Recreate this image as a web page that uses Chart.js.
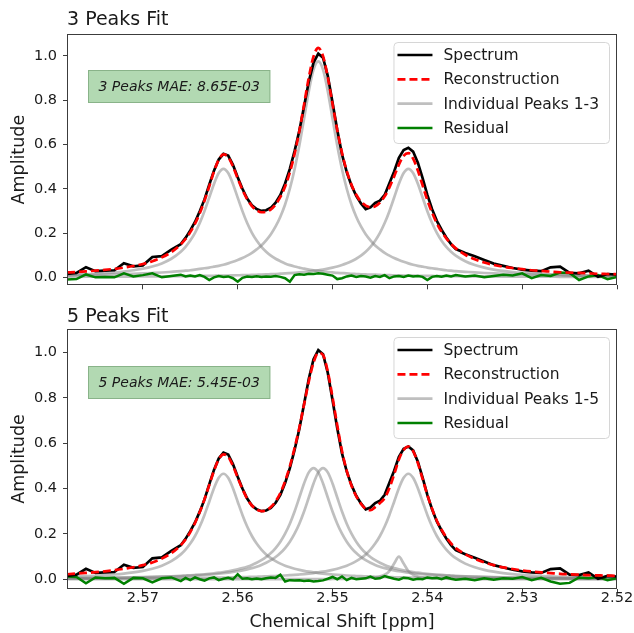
<!DOCTYPE html>
<html>
<head>
<meta charset="utf-8">
<script src="https://cdn.jsdelivr.net/npm/chart.js@4.4.1/dist/chart.umd.min.js"></script>
<style>
  html, body { margin: 0; padding: 0; background: #fff; }
  #wrap { position: relative; width: 634px; height: 633px; }
  .panel { position: absolute; left: 0; width: 634px; }
  #top { top: 0; height: 300px; }
  #bottom { top: 300px; height: 333px; }
</style>
</head>
<body>
<div id="wrap">
  <div class="panel" id="top"><canvas id="fit3" width="634" height="300"></canvas></div>
  <div class="panel" id="bottom"><canvas id="fit5" width="634" height="333"></canvas></div>
</div>
<script>
// chemical shift grid (ppm) - coarse in the tails, fine around the peaks
const shifts = [
  2.578, 2.577, 2.576, 2.575, 2.574, 2.573, 2.572, 2.571, 2.570, 2.569, 2.568, 2.567,
  2.566, 2.5655, 2.565, 2.5645, 2.564, 2.5635, 2.563, 2.5625, 2.562, 2.5615,
  2.561, 2.5605, 2.560, 2.5595, 2.559, 2.5585, 2.558, 2.5575, 2.557, 2.5565,
  2.556, 2.5555, 2.555, 2.5545, 2.554, 2.5535, 2.553, 2.5525, 2.552, 2.5515,
  2.551, 2.5505, 2.550, 2.5495, 2.549, 2.5485, 2.548, 2.5475, 2.547, 2.5465,
  2.546, 2.5455, 2.545, 2.5445, 2.544, 2.5435, 2.543, 2.5425, 2.542, 2.5415,
  2.541, 2.5405, 2.540, 2.5395, 2.539, 2.5385, 2.538, 2.5375, 2.537,
  2.536, 2.535, 2.534, 2.533, 2.532, 2.531, 2.530, 2.529, 2.528, 2.527, 2.526,
  2.525, 2.524, 2.523, 2.522, 2.521, 2.520
];

// measured spectrum (same in both panels)
const spectrum = [
  0.015, 0.020, 0.046, 0.028, 0.030, 0.032, 0.064, 0.050, 0.054, 0.092, 0.096, 0.125,
  0.150, 0.178, 0.212, 0.250, 0.298, 0.352, 0.418, 0.482, 0.532, 0.558,
  0.550, 0.508, 0.452, 0.400, 0.356, 0.325, 0.308, 0.300, 0.303, 0.314,
  0.337, 0.372, 0.424, 0.490, 0.570, 0.662, 0.772, 0.884, 0.970, 1.010,
  0.992, 0.910, 0.790, 0.665, 0.555, 0.475, 0.415, 0.368, 0.334, 0.308,
  0.316, 0.336, 0.346, 0.372, 0.425, 0.478, 0.540, 0.575, 0.585, 0.568,
  0.518, 0.448, 0.372, 0.308, 0.255, 0.215, 0.180, 0.150, 0.128,
  0.110, 0.095, 0.078, 0.062, 0.052, 0.042, 0.035, 0.030, 0.028, 0.045, 0.048,
  0.020, 0.018, 0.030, 0.002, 0.015, 0.012
];

// 3 peaks fit
const recon3 = [
  0.022, 0.024, 0.027, 0.030, 0.034, 0.038, 0.044, 0.051, 0.060, 0.073, 0.090, 0.114,
  0.149, 0.173, 0.204, 0.242, 0.289, 0.346, 0.411, 0.478, 0.531, 0.555,
  0.543, 0.501, 0.447, 0.395, 0.353, 0.322, 0.303, 0.294, 0.296, 0.307,
  0.329, 0.363, 0.410, 0.474, 0.557, 0.660, 0.780, 0.902, 0.998, 1.036,
  0.999, 0.904, 0.783, 0.664, 0.562, 0.480, 0.418, 0.373, 0.342, 0.324,
  0.317, 0.321, 0.338, 0.366, 0.406, 0.456, 0.509, 0.549, 0.561, 0.536,
  0.482, 0.415, 0.349, 0.292, 0.244, 0.206, 0.176, 0.151, 0.131,
  0.102, 0.082, 0.067, 0.056, 0.048, 0.042, 0.037, 0.032, 0.029, 0.026, 0.023,
  0.021, 0.020, 0.018, 0.016, 0.015, 0.014
];
const peak3a = [
  0.011, 0.012, 0.014, 0.016, 0.019, 0.022, 0.026, 0.032, 0.039, 0.049, 0.063, 0.084,
  0.116, 0.138, 0.166, 0.201, 0.245, 0.299, 0.360, 0.422, 0.471, 0.490,
  0.471, 0.422, 0.360, 0.299, 0.245, 0.201, 0.166, 0.138, 0.116, 0.098,
  0.084, 0.073, 0.063, 0.055, 0.049, 0.044, 0.039, 0.035, 0.032, 0.029,
  0.026, 0.024, 0.022, 0.020, 0.019, 0.018, 0.016, 0.015, 0.014, 0.013,
  0.012, 0.012, 0.011, 0.010, 0.0098, 0.0093, 0.0088, 0.0083, 0.0079, 0.0075,
  0.0072, 0.0069, 0.0065, 0.0062, 0.0060, 0.0057, 0.0055, 0.0053, 0.0051,
  0.0047, 0.0043, 0.0040, 0.0037, 0.0035, 0.0033, 0.0031, 0.0029, 0.0027, 0.0026, 0.0024,
  0.0023, 0.0022, 0.0021, 0.0020, 0.0019, 0.0018
];
const peak3b = [
  0.0086, 0.0093, 0.0100, 0.0109, 0.0119, 0.0130, 0.0143, 0.0158, 0.0175, 0.0195, 0.0218, 0.0248,
  0.028, 0.030, 0.032, 0.035, 0.038, 0.041, 0.044, 0.048, 0.052, 0.057,
  0.063, 0.070, 0.078, 0.087, 0.098, 0.110, 0.126, 0.144, 0.167, 0.195,
  0.230, 0.274, 0.329, 0.400, 0.488, 0.595, 0.717, 0.841, 0.938, 0.975,
  0.938, 0.841, 0.717, 0.595, 0.488, 0.400, 0.329, 0.274, 0.230, 0.195,
  0.167, 0.144, 0.126, 0.110, 0.098, 0.087, 0.078, 0.070, 0.063, 0.057,
  0.052, 0.048, 0.044, 0.041, 0.038, 0.035, 0.032, 0.030, 0.028,
  0.025, 0.022, 0.0195, 0.0175, 0.0158, 0.0143, 0.0130, 0.0119, 0.0109, 0.0100, 0.0093,
  0.0086, 0.0080, 0.0074, 0.0069, 0.0065, 0.0061
];
const peak3c = [
  0.0024, 0.0025, 0.0026, 0.0028, 0.0030, 0.0032, 0.0034, 0.0036, 0.0039, 0.0042, 0.0045, 0.0049,
  0.0052, 0.0055, 0.0057, 0.0060, 0.0062, 0.0065, 0.0069, 0.0072, 0.0075, 0.0079,
  0.0083, 0.0088, 0.0093, 0.0098, 0.0104, 0.0110, 0.0117, 0.0124, 0.0132, 0.0142,
  0.0151, 0.0163, 0.0175, 0.0189, 0.0204, 0.0221, 0.0241, 0.0263, 0.0288, 0.0318,
  0.0351, 0.0390, 0.0436, 0.0490, 0.0554, 0.0632, 0.0725, 0.0839, 0.098, 0.1155,
  0.1376, 0.1655, 0.2008, 0.245, 0.2988, 0.3603, 0.4224, 0.4711, 0.490, 0.4711,
  0.4224, 0.3603, 0.2988, 0.245, 0.2008, 0.1655, 0.1376, 0.1155, 0.098,
  0.0725, 0.0554, 0.0436, 0.0351, 0.0288, 0.0241, 0.0204, 0.0175, 0.0151, 0.0132, 0.0117,
  0.0104, 0.0093, 0.0083, 0.0075, 0.0069, 0.0062
];
const resid3 = [
  -0.010, -0.008, 0.013, 0.000, 0.002, 0.000, 0.018, 0.004, 0.010, 0.018, 0.000, 0.006,
  0.012, 0.004, 0.008, 0.004, 0.010, 0.002, -0.012, 0.000, 0.006, 0.002,
  0.004, -0.004, -0.020, -0.002, 0.004, 0.002, 0.005, 0.002, 0.004, 0.003,
  0.006, 0.002, -0.004, -0.020, 0.010, 0.014, 0.012, 0.016, 0.015, 0.018,
  0.016, 0.012, 0.008, -0.008, -0.004, 0.004, 0.008, 0.002, 0.006, 0.004,
  -0.002, 0.006, 0.002, 0.010, -0.004, 0.004, 0.006, 0.002, 0.008, 0.004,
  0.006, 0.002, -0.012, 0.002, 0.006, 0.003, 0.008, 0.004, 0.010,
  0.004, 0.008, 0.000, 0.006, 0.012, 0.008, 0.018, -0.004, 0.010, 0.006, 0.022,
  0.020, -0.012, 0.004, 0.010, -0.008, 0.002
];

// 5 peaks fit
const recon5 = [
  0.022, 0.025, 0.028, 0.031, 0.035, 0.040, 0.046, 0.053, 0.062, 0.074, 0.091, 0.115,
  0.150, 0.175, 0.208, 0.248, 0.296, 0.352, 0.415, 0.478, 0.528, 0.550,
  0.540, 0.500, 0.448, 0.398, 0.355, 0.325, 0.307, 0.300, 0.304, 0.318,
  0.343, 0.380, 0.432, 0.498, 0.578, 0.668, 0.770, 0.872, 0.955, 0.998,
  0.988, 0.915, 0.802, 0.678, 0.565, 0.478, 0.413, 0.366, 0.333, 0.310,
  0.304, 0.318, 0.336, 0.358, 0.402, 0.462, 0.528, 0.570, 0.585, 0.565,
  0.512, 0.442, 0.372, 0.310, 0.258, 0.218, 0.185, 0.158, 0.137,
  0.110, 0.090, 0.074, 0.062, 0.052, 0.045, 0.039, 0.034, 0.030, 0.027, 0.024,
  0.022, 0.020, 0.018, 0.017, 0.016, 0.015
];
const peak5a = [
  0.0104, 0.0118, 0.0134, 0.0154, 0.0179, 0.021, 0.0249, 0.0301, 0.037, 0.0465, 0.0599, 0.0796,
  0.1096, 0.1306, 0.1571, 0.1906, 0.2325, 0.2836, 0.3419, 0.4009, 0.4471, 0.465,
  0.4471, 0.4009, 0.3419, 0.2836, 0.2325, 0.1906, 0.1571, 0.1306, 0.1096, 0.093,
  0.0796, 0.0688, 0.0599, 0.0526, 0.0465, 0.0414, 0.037, 0.0333, 0.0301, 0.0273,
  0.0249, 0.0228, 0.021, 0.0193, 0.0179, 0.0166, 0.0154, 0.0144, 0.0134, 0.0126,
  0.0118, 0.0111, 0.0104, 0.0099, 0.0093, 0.0088, 0.0083, 0.0079, 0.0075, 0.0072,
  0.0068, 0.0065, 0.0062, 0.0059, 0.0057, 0.0054, 0.0052, 0.0050, 0.0048,
  0.0044, 0.0041, 0.0038, 0.0035, 0.0033, 0.0031, 0.0029, 0.0027, 0.0026, 0.0024, 0.0023,
  0.0022, 0.0020, 0.0019, 0.0019, 0.0018, 0.0017
];
const peak5b = [
  0.0045, 0.0049, 0.0052, 0.0057, 0.0062, 0.0069, 0.0075, 0.0083, 0.0093, 0.0104, 0.0117, 0.0132,
  0.0151, 0.0163, 0.0175, 0.0189, 0.0204, 0.0221, 0.0241, 0.0263, 0.0288, 0.0318,
  0.0351, 0.039, 0.0436, 0.049, 0.0554, 0.0632, 0.0725, 0.0839, 0.098, 0.1155,
  0.1376, 0.1655, 0.2008, 0.245, 0.2988, 0.3603, 0.4224, 0.4711, 0.490, 0.4711,
  0.4224, 0.3603, 0.2988, 0.245, 0.2008, 0.1655, 0.1376, 0.1155, 0.098, 0.0839,
  0.0725, 0.0632, 0.0554, 0.049, 0.0436, 0.039, 0.0351, 0.0318, 0.0288, 0.0263,
  0.0241, 0.0221, 0.0204, 0.0189, 0.0175, 0.0163, 0.0151, 0.0142, 0.0132,
  0.0117, 0.0104, 0.0093, 0.0083, 0.0075, 0.0069, 0.0062, 0.0057, 0.0052, 0.0049, 0.0045,
  0.0042, 0.0039, 0.0036, 0.0034, 0.0032, 0.0030
];
const peak5c = [
  0.0042, 0.0045, 0.0049, 0.0052, 0.0057, 0.0062, 0.0069, 0.0075, 0.0083, 0.0093, 0.0104, 0.0117,
  0.0132, 0.0142, 0.0151, 0.0163, 0.0175, 0.0189, 0.0204, 0.0221, 0.0241, 0.0263,
  0.0288, 0.0318, 0.0351, 0.039, 0.0436, 0.049, 0.0554, 0.0632, 0.0725, 0.0839,
  0.098, 0.1155, 0.1376, 0.1655, 0.2008, 0.245, 0.2988, 0.3603, 0.4224, 0.4711,
  0.490, 0.4711, 0.4224, 0.3603, 0.2988, 0.245, 0.2008, 0.1655, 0.1376, 0.1155,
  0.098, 0.0839, 0.0725, 0.0632, 0.0554, 0.049, 0.0436, 0.039, 0.0351, 0.0318,
  0.0288, 0.0263, 0.0241, 0.0221, 0.0204, 0.0189, 0.0175, 0.0163, 0.0151,
  0.0132, 0.0117, 0.0104, 0.0093, 0.0083, 0.0075, 0.0069, 0.0062, 0.0057, 0.0052, 0.0049,
  0.0045, 0.0042, 0.0039, 0.0036, 0.0034, 0.0032
];
const peak5d = [
  0, 0, 0, 0, 0, 0, 0, 0, 0, 0, 0, 0,
  0, 0, 0, 0, 0, 0, 0, 0, 0, 0,
  0.0001, 0.0001, 0.0001, 0.0001, 0.0002, 0.0002, 0.0002, 0.0002, 0.0002, 0.0003,
  0.0003, 0.0003, 0.0003, 0.0004, 0.0004, 0.0005, 0.0005, 0.0006, 0.0006, 0.0007,
  0.0008, 0.0009, 0.0010, 0.0012, 0.0015, 0.0018, 0.0022, 0.0027, 0.0034, 0.0044,
  0.0059, 0.0083, 0.0123, 0.020, 0.036, 0.0692, 0.100, 0.0692, 0.036, 0.020,
  0.0123, 0.0083, 0.0059, 0.0044, 0.0034, 0.0027, 0.0022, 0.0018, 0.0015,
  0.0011, 0.0009, 0.0007, 0.0006, 0.0005, 0.0004, 0.0004, 0.0003, 0.0003, 0.0003, 0.0002,
  0.0002, 0.0002, 0.0002, 0.0002, 0.0001, 0.0001
];
const peak5e = [
  0.0022, 0.0024, 0.0025, 0.0027, 0.0028, 0.0030, 0.0032, 0.0034, 0.0037, 0.0040, 0.0043, 0.0046,
  0.0050, 0.0052, 0.0054, 0.0057, 0.0059, 0.0062, 0.0065, 0.0068, 0.0072, 0.0075,
  0.0079, 0.0083, 0.0088, 0.0093, 0.0099, 0.0104, 0.0111, 0.0118, 0.0126, 0.0134,
  0.0144, 0.0154, 0.0166, 0.0179, 0.0193, 0.021, 0.0228, 0.0249, 0.0273, 0.0301,
  0.0333, 0.037, 0.0414, 0.0465, 0.0526, 0.0599, 0.0688, 0.0796, 0.093, 0.1096,
  0.1306, 0.1571, 0.1906, 0.2325, 0.2836, 0.3419, 0.4009, 0.4471, 0.465, 0.4471,
  0.4009, 0.3419, 0.2836, 0.2325, 0.1906, 0.1571, 0.1306, 0.1096, 0.093,
  0.0688, 0.0526, 0.0414, 0.0333, 0.0273, 0.0228, 0.0193, 0.0166, 0.0144, 0.0126, 0.0111,
  0.0099, 0.0088, 0.0079, 0.0072, 0.0065, 0.0059
];
const resid5 = [
  0.012, 0.010, -0.018, 0.008, 0.004, 0.006, -0.020, 0.006, 0.004, -0.014, 0.004, 0.008,
  -0.008, 0.006, -0.004, 0.008, 0.000, -0.006, 0.004, 0.008, -0.004, 0.002,
  0.006, 0.000, 0.022, 0.002, 0.004, 0.000, 0.003, 0.000, 0.004, 0.008,
  0.006, 0.020, -0.010, -0.004, -0.006, -0.004, -0.008, -0.006, -0.010, -0.008,
  -0.005, 0.002, 0.010, 0.000, 0.012, -0.004, 0.006, 0.000, 0.002, 0.004,
  0.012, 0.002, 0.004, 0.014, 0.008, 0.002, -0.002, 0.006, 0.004, -0.002,
  0.002, 0.000, 0.008, 0.004, 0.006, 0.000, 0.008, 0.002, -0.002,
  0.002, -0.004, 0.004, -0.002, 0.004, 0.002, 0.010, -0.004, 0.006, -0.010, -0.020,
  -0.016, 0.008, 0.004, 0.010, -0.004, 0.004
];

// axis ticks
const xTickValues = [2.57, 2.56, 2.55, 2.54, 2.53, 2.52];
const yTickValues = [0.0, 0.2, 0.4, 0.6, 0.8, 1.0];

Chart.defaults.font.family = '"DejaVu Sans", sans-serif';
Chart.defaults.color = '#222';

const TEXT = '#1a1a1a';
const AXIS = '#3c3c3c';

function series(values) {
    return shifts.map((x, i) => ({ x: x, y: values[i] }));
}

// frame, MAE box and legend drawn over the plot
const panelDecor = {
    id: 'panelDecor',
    afterDatasetsDraw(chart, args, opts) {
        const ctx = chart.ctx;
        const a = chart.chartArea;
        ctx.save();

        // axes frame
        ctx.strokeStyle = AXIS;
        ctx.lineWidth = 1;
        ctx.setLineDash([]);
        ctx.strokeRect(Math.round(a.left) + 0.5, Math.round(a.top) + 0.5,
            Math.round(a.right - a.left) - 1, Math.round(a.bottom - a.top) - 1);

        // MAE label
        ctx.font = 'italic 14px "DejaVu Sans"';
        const tw = ctx.measureText(opts.mae).width;
        const bx = a.left + 21, by = a.top + opts.maeTop, bw = tw + 21, bh = 33;
        ctx.fillStyle = 'rgba(0, 128, 0, 0.3)';
        ctx.fillRect(bx, by, bw, bh);
        ctx.strokeStyle = 'rgba(60, 110, 60, 0.35)';
        ctx.strokeRect(bx + 0.5, by + 0.5, bw - 1, bh - 1);
        ctx.fillStyle = TEXT;
        ctx.textBaseline = 'middle';
        ctx.textAlign = 'left';
        ctx.fillText(opts.mae, bx + 10.5, by + bh / 2 + 1);

        // legend
        const items = chart.data.datasets.filter(d => d.inLegend);
        ctx.font = '15.5px "DejaVu Sans"';
        const textW = Math.max(...items.map(d => ctx.measureText(d.label).width));
        const lw = 50 + textW + 10, lh = 101;
        const lx = a.right - 8 - lw, ly = a.top + 8;
        ctx.beginPath();
        ctx.roundRect(lx + 0.5, ly + 0.5, lw, lh, 4);
        ctx.fillStyle = 'rgba(255, 255, 255, 0.8)';
        ctx.fill();
        ctx.strokeStyle = '#d6d6d6';
        ctx.lineWidth = 1;
        ctx.stroke();
        items.forEach((d, k) => {
            const y = ly + 13 + k * 24.3;
            ctx.beginPath();
            ctx.strokeStyle = d.borderColor;
            ctx.lineWidth = d.borderWidth;
            ctx.setLineDash(d.borderDash || []);
            ctx.moveTo(lx + 4, y);
            ctx.lineTo(lx + 39, y);
            ctx.stroke();
            ctx.setLineDash([]);
            ctx.fillStyle = TEXT;
            ctx.fillText(d.label, lx + 50, y + 1);
        });
        ctx.restore();
    }
};

function makePanel(id, p) {
    const peakColor = 'rgba(128, 128, 128, 0.5)';
    const datasets = [
        { label: 'Spectrum', data: series(spectrum), borderColor: '#000000', borderWidth: 2.7, order: 2, inLegend: true },
        { label: 'Reconstruction', data: series(p.recon), borderColor: '#ff0000', borderWidth: 2.7,
          borderDash: [8, 4], cubicInterpolationMode: 'monotone', order: 1, inLegend: true }
    ];
    p.peaks.forEach((vals, k) => {
        datasets.push({ label: k === 0 ? p.peaksLabel : 'Peak ' + (k + 1), data: series(vals),
            borderColor: peakColor, borderWidth: 2.7, cubicInterpolationMode: 'monotone',
            order: 4, inLegend: k === 0 });
    });
    datasets.push({ label: 'Residual', data: series(p.resid), borderColor: '#008000', borderWidth: 2.5, order: 3, inLegend: true });

    const tickFont = { size: 14.5 };
    return new Chart(document.getElementById(id), {
        type: 'line',
        data: { datasets: datasets },
        plugins: [panelDecor],
        options: {
            responsive: false,
            animation: false,
            devicePixelRatio: 1,
            elements: { point: { radius: 0 } },
            layout: { padding: { left: 0, right: 17, top: 0, bottom: 0 } },
            plugins: {
                legend: { display: false },
                tooltip: { enabled: false },
                title: {
                    display: true, text: p.title, align: 'start', fullSize: false,
                    color: TEXT, font: { size: 19, weight: 'normal' },
                    padding: p.titlePadding
                },
                panelDecor: { mae: p.mae, maeTop: p.maeTop }
            },
            scales: {
                x: {
                    type: 'linear', reverse: true, min: 2.52, max: 2.578,
                    afterBuildTicks: s => { s.ticks = xTickValues.map(v => ({ value: v })); },
                    afterFit: s => { s.height = p.xHeight; },
                    ticks: { display: p.xLabels, font: tickFont, color: TEXT, padding: -3, maxRotation: 0,
                             callback: v => v.toFixed(2) },
                    grid: { drawOnChartArea: false, drawTicks: true, tickLength: 4, color: AXIS },
                    border: { display: false },
                    title: { display: p.xLabels, text: 'Chemical Shift [ppm]', color: TEXT,
                             font: { size: 17.5 }, padding: { top: 0, bottom: 0 } }
                },
                y: {
                    min: p.yMin, max: p.yMax,
                    afterBuildTicks: s => { s.ticks = yTickValues.map(v => ({ value: v })); },
                    afterFit: s => { s.width = 67; },
                    ticks: { font: tickFont, color: TEXT, padding: 6, callback: v => v.toFixed(1) },
                    grid: { drawOnChartArea: false, drawTicks: true, tickLength: 4, color: AXIS },
                    border: { display: false },
                    title: { display: true, text: 'Amplitude', color: TEXT,
                             font: { size: 17.5 }, padding: { top: 8.5, bottom: 0 } }
                }
            }
        }
    });
}

makePanel('fit3', {
    title: '3 Peaks Fit', mae: '3 Peaks MAE: 8.65E-03', maeTop: 36,
    recon: recon3, peaks: [peak3a, peak3b, peak3c], resid: resid3,
    peaksLabel: 'Individual Peaks 1-3',
    yMin: -0.036, yMax: 1.099, xLabels: false, xHeight: 7,
    titlePadding: { top: 8.6, bottom: 2.6 }
});

makePanel('fit5', {
    title: '5 Peaks Fit', mae: '5 Peaks MAE: 5.45E-03', maeTop: 37,
    recon: recon5, peaks: [peak5a, peak5b, peak5c, peak5d, peak5e], resid: resid5,
    peaksLabel: 'Individual Peaks 1-5',
    yMin: -0.043, yMax: 1.103, xLabels: true, xHeight: 44,
    titlePadding: { top: 5.6, bottom: 0.6 }
});
</script>
</body>
</html>
